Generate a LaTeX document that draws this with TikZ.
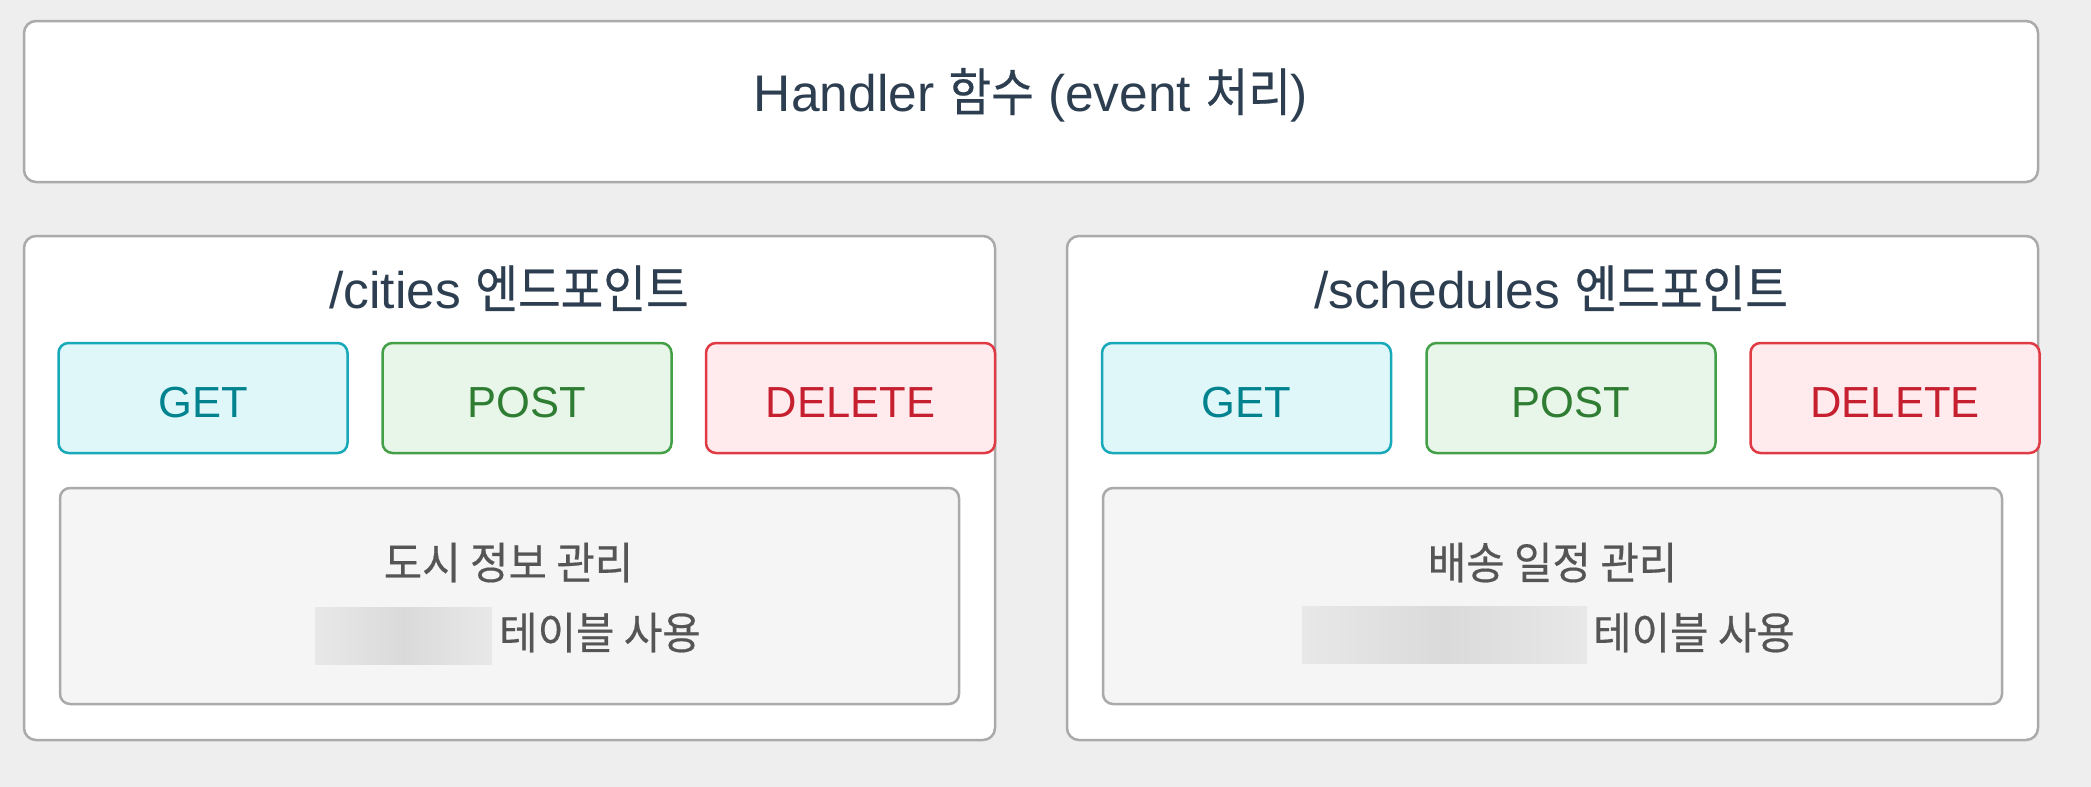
\documentclass[tikz,border=0pt]{standalone}
\usepackage{fontspec}
\setmainfont{Liberation Sans}
\newfontfamily\kr[FakeStretch=0.9,FakeBold=0.4]{Noto Sans CJK KR}
\newfontfamily\krn[FakeStretch=0.95,FakeBold=0.4]{Noto Sans CJK KR}
\definecolor{bgc}{HTML}{EEEEEE}
\definecolor{boxgray}{HTML}{AAAAAA}
\definecolor{titlec}{HTML}{2C3E50}
\definecolor{notec}{HTML}{555555}
\definecolor{notebg}{HTML}{F5F5F5}
\definecolor{getbg}{HTML}{E0F7FA}
\definecolor{getbd}{HTML}{17A9BA}
\definecolor{gettx}{HTML}{00838F}
\definecolor{postbg}{HTML}{E8F5E9}
\definecolor{postbd}{HTML}{43A047}
\definecolor{posttx}{HTML}{2E7D32}
\definecolor{delbg}{HTML}{FFEBEE}
\definecolor{delbd}{HTML}{E03A44}
\definecolor{deltx}{HTML}{C62030}
\definecolor{blurA}{HTML}{E8E8E8}
\definecolor{blurB}{HTML}{DADADA}
\begin{document}
\begin{tikzpicture}[x=1pt,y=-1pt,
  box/.style={draw=boxgray, line width=2.5pt, rounded corners=12pt, fill=white, inner sep=0pt, outer sep=0pt},
  notebox/.style={draw=boxgray, line width=2.5pt, rounded corners=10pt, fill=notebg, inner sep=0pt, outer sep=0pt, minimum width=899pt, minimum height=216pt},
  btn/.style={line width=2.5pt, rounded corners=10pt, inner sep=0pt, outer sep=0pt, minimum width=289pt, minimum height=110pt},
  getbtn/.style={btn, draw=getbd, fill=getbg},
  postbtn/.style={btn, draw=postbd, fill=postbg},
  delbtn/.style={btn, draw=delbd, fill=delbg},
  ttl/.style={anchor=base, text=titlec, inner sep=0pt, font=\fontsize{51.5}{60}\selectfont},
  btxt/.style={anchor=base, inner sep=0pt, font=\fontsize{43.5}{50}\selectfont},
  note/.style={anchor=base, inner sep=0pt, text=notec, font=\krn\fontsize{44}{52}\selectfont},
  blur/.style={shade, left color=blurA, right color=blurA, middle color=blurB, inner sep=0pt, outer sep=0pt, minimum height=57pt},
]
\useasboundingbox (0,0) rectangle (2091,787);
\fill[bgc] (0,0) rectangle (2091,787);

% top handler box
\node[box, minimum width=2014pt, minimum height=161pt] (handler) at (1031,101.5) {};
\node[ttl] (handlert) at (1031,111) {Handler {\kr 함수} (event {\kr 처리})};

% cities endpoint
\node[box, minimum width=971pt, minimum height=504pt] (cities) at (509.5,488) {};
\node[ttl] (citiest) at (509,308) {/cities {\kr 엔드포인트}};
\node[getbtn] (cget) at (203,398) {};
\node[btxt, text=gettx] (cgett) at (203,417) {GET};
\node[postbtn] (cpost) at (527,398) {};
\node[btxt, text=posttx] (cpostt) at (527,417) {POST};
\node[delbtn] (cdel) at (850.5,398) {};
\node[btxt, text=deltx] (cdelt) at (850.5,417) {DELETE};
\node[notebox] (cnote) at (509.5,596) {};
\node[note] (cnote1) at (508.5,579) {도시 정보 관리};
\node[blur, minimum width=177pt] (cblur) at (403.5,635.5) {};
\node[note, anchor=base west] (cnote2) at (499,649) {테이블 사용};

% schedules endpoint
\node[box, minimum width=971pt, minimum height=504pt] (sched) at (1552.5,488) {};
\node[ttl] (schedt) at (1551,308) {/schedules {\kr 엔드포인트}};
\node[getbtn] (sget) at (1246.5,398) {};
\node[btxt, text=gettx] (sgett) at (1246.5,417) {GET};
\node[postbtn] (spost) at (1571,398) {};
\node[btxt, text=posttx] (spostt) at (1571,417) {POST};
\node[delbtn] (sdel) at (1895,398) {};
\node[btxt, text=deltx] (sdelt) at (1895,417) {DELETE};
\node[notebox] (snote) at (1552.5,596) {};
\node[note] (snote1) at (1552.5,579) {배송 일정 관리};
\node[blur, minimum width=285pt] (sblur) at (1444.5,635) {};
\node[note, anchor=base west] (snote2) at (1593,649) {테이블 사용};
\end{tikzpicture}
\end{document}
